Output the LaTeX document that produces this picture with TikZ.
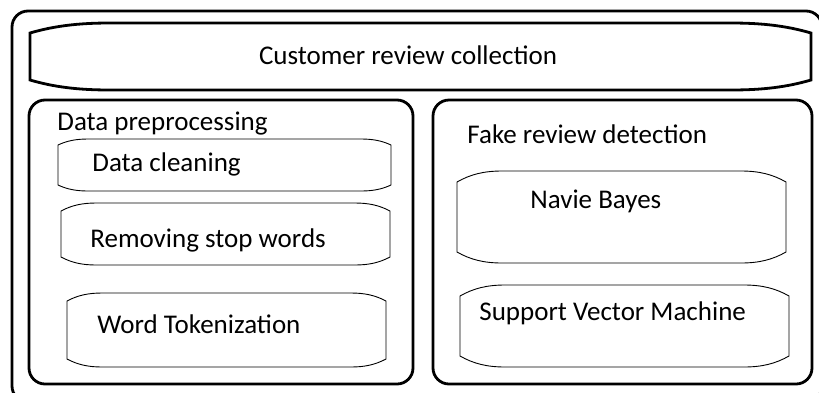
\documentclass[tikz,border=0pt]{standalone}
\usepackage{fontspec}
\setmainfont{Carlito}
\begin{document}
\begin{tikzpicture}[x=0.5pt,y=-0.5pt]
% Styles
\tikzstyle{cadre}=[line width=1.4pt,rounded corners=8pt]
\tikzstyle{bandeau}=[line width=1.4pt]
\tikzstyle{boite}=[line width=0.45pt]
\tikzstyle{texte}=[font=\fontsize{13.5}{16}\selectfont,inner sep=0pt]
% Forme bombee : x1, y1, x2, y2, d (hauteur du coin), c (largeur du coin)
\def\bombe#1#2#3#4#5#6{(#1,#2+#5) .. controls (#1+0.3*#6,#2+0.3*#5) and (#1+0.6*#6,#2) .. (#1+#6,#2) -- (#3-#6,#2) .. controls (#3-0.6*#6,#2) and (#3-0.3*#6,#2+0.3*#5) .. (#3,#2+#5) -- (#3,#4-#5) .. controls (#3-0.3*#6,#4-0.3*#5) and (#3-0.6*#6,#4) .. (#3-#6,#4) -- (#1+#6,#4) .. controls (#1+0.6*#6,#4) and (#1+0.3*#6,#4-0.3*#5) .. (#1,#4-#5) -- cycle}
% Cadre
\useasboundingbox (0,0) rectangle (819,392);
\clip (0,0) rectangle (819,392);
\draw[cadre] (12,11) rectangle (822,402);
% Ligne du haut : collecte
\draw[bandeau] \bombe{30}{23}{811}{90}{10}{80};
\node[texte] (collecte) at (408,55) {Customer review collection};
% Bloc de gauche : pretraitement
\draw[cadre] (29,100) rectangle (413,384);
\node[texte,anchor=base west] (pretraitement) at (57,130) {Data preprocessing};
\draw[boite] \bombe{58}{139}{391}{191}{6}{30};
\node[texte,anchor=base west] (nettoyage) at (92,171) {Data cleaning};
\draw[boite] \bombe{61}{203}{390}{265}{8}{35};
\node[texte,anchor=base west] (motsvides) at (90,247) {Removing stop words};
\draw[boite] \bombe{67}{293}{386}{367}{8}{35};
\node[texte,anchor=base west] (tokenisation) at (97,333) {Word Tokenization};
% Bloc de droite : detection
\draw[cadre] (433,100) rectangle (812,384);
\node[texte,anchor=base west] (detection) at (467,143) {Fake review detection};
\draw[boite] \bombe{457}{171}{786}{263}{11}{45};
\node[texte,anchor=base west] (bayes) at (530,208) {Navie Bayes};
\draw[boite] \bombe{460}{285}{789}{367}{11}{45};
\node[texte,anchor=base west] (svm) at (479,320) {Support Vector Machine};
\end{tikzpicture}
\end{document}
